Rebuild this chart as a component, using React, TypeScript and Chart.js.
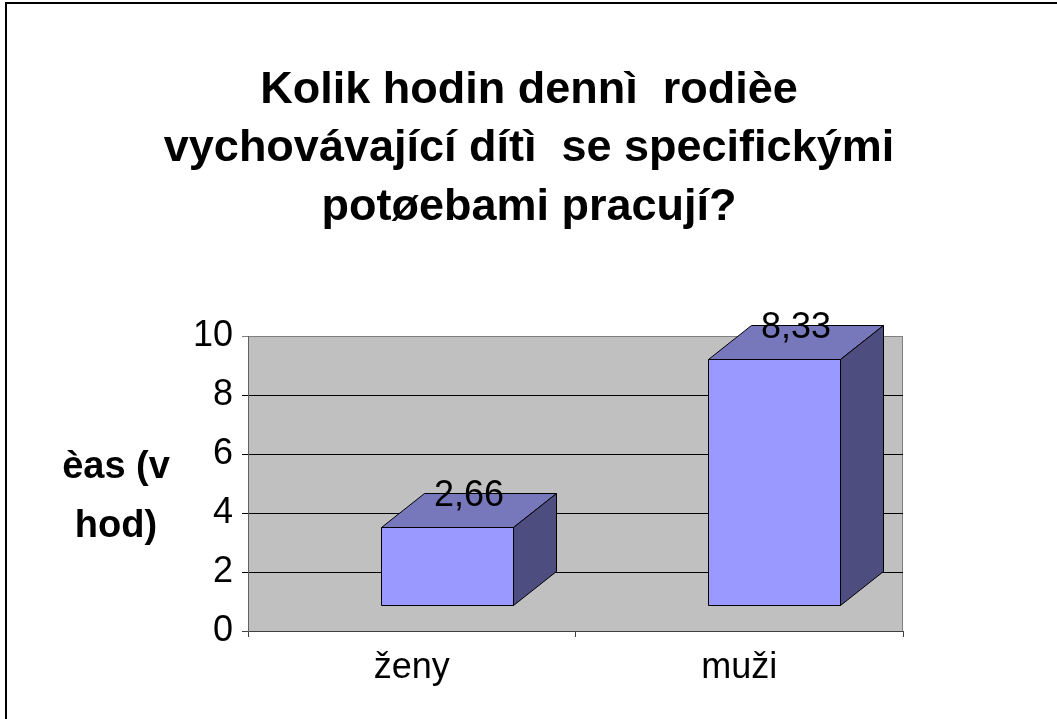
import React, { useEffect, useRef } from 'react';
import { Chart, registerables } from 'chart.js';

Chart.register(...registerables);

const categories = ['ženy', 'muži'];
const hours = [2.66, 8.33];
const yTicks = [0, 2, 4, 6, 8, 10];
const titleLines = ['Kolik hodin dennì  rodièe', 'vychovávající dítì  se specifickými', 'potøebami pracují?'];
const yTitleLines = ['èas (v', 'hod)'];

const FONT = "'Liberation Sans', Arial, Helvetica, sans-serif";

export default function App() {
  const ref = useRef<HTMLCanvasElement>(null);

  useEffect(() => {
    document.body.style.margin = '0';
    const DEPTH_X = 43;
    const DEPTH_Y = 34;
    const SHIFT_X = 35;
    const LIFT = 26;

    const wallPlugin = {
      id: 'wall3d',
      beforeDraw(chart: any) {
        const { ctx, chartArea: a } = chart;
        ctx.save();
        ctx.fillStyle = '#C0C0C0';
        ctx.fillRect(a.left, a.top, a.right - a.left, a.bottom - a.top);
        ctx.strokeStyle = '#808080';
        ctx.lineWidth = 1;
        ctx.beginPath();
        ctx.moveTo(Math.round(a.right) - 0.5, a.top);
        ctx.lineTo(Math.round(a.right) - 0.5, a.bottom);
        ctx.stroke();
        ctx.restore();
      },
      afterDatasetsDraw(chart: any) {
        const { ctx } = chart;
        const meta = chart.getDatasetMeta(0);
        ctx.save();
        ctx.lineWidth = 1;
        ctx.strokeStyle = '#000000';
        ctx.lineJoin = 'miter';
        meta.data.forEach((el: any, i: number) => {
          const w = el.width;
          const L = Math.round(el.x - w / 2 + SHIFT_X) + 0.5;
          const R = Math.round(el.x + w / 2 + SHIFT_X) + 0.5;
          const T = Math.round(el.y - LIFT) + 0.5;
          const B = Math.round(el.base - LIFT) + 0.5;
          // top face
          ctx.fillStyle = '#7777BB';
          ctx.beginPath();
          ctx.moveTo(L, T);
          ctx.lineTo(L + DEPTH_X, T - DEPTH_Y);
          ctx.lineTo(R + DEPTH_X, T - DEPTH_Y);
          ctx.lineTo(R, T);
          ctx.closePath();
          ctx.fill();
          ctx.stroke();
          // side face
          ctx.fillStyle = '#4D4D80';
          ctx.beginPath();
          ctx.moveTo(R, T);
          ctx.lineTo(R + DEPTH_X, T - DEPTH_Y);
          ctx.lineTo(R + DEPTH_X, B - DEPTH_Y);
          ctx.lineTo(R, B);
          ctx.closePath();
          ctx.fill();
          ctx.stroke();
          // front face
          ctx.fillStyle = '#9999FF';
          ctx.beginPath();
          ctx.rect(L, T, R - L, B - T);
          ctx.fill();
          ctx.stroke();
          // value label
          ctx.fillStyle = '#000000';
          ctx.font = `36px ${FONT}`;
          ctx.textAlign = 'center';
          ctx.textBaseline = 'alphabetic';
          const label = hours[i].toFixed(2).replace('.', ',');
          ctx.fillText(label, (L + R) / 2 + DEPTH_X / 2, T - 22);
        });
        ctx.restore();
      },
      afterDraw(chart: any) {
        const { ctx, chartArea: a } = chart;
        ctx.save();
        ctx.fillStyle = '#000000';
        ctx.font = `bold 38px ${FONT}`;
        ctx.textAlign = 'center';
        ctx.textBaseline = 'alphabetic';
        yTitleLines.forEach((line, i) => {
          ctx.fillText(line, a.left - 132, a.top + 142 + i * 59);
        });
        ctx.restore();
      },
    };

    const chart = new Chart(ref.current as HTMLCanvasElement, {
      type: 'bar',
      data: {
        labels: categories,
        datasets: [
          {
            data: hours,
            backgroundColor: 'rgba(0,0,0,0)',
            borderWidth: 0,
            barPercentage: 1,
            categoryPercentage: 0.403,
          },
        ],
      },
      options: {
        animation: false,
        responsive: true,
        maintainAspectRatio: false,
        layout: { padding: { left: 155, right: 154, top: 0, bottom: 0 } },
        plugins: {
          legend: { display: false },
          tooltip: { enabled: false },
          title: {
            display: true,
            text: titleLines,
            color: '#000000',
            font: { family: FONT, size: 45, weight: 'bold', lineHeight: 1.3 },
            padding: { top: 61, bottom: 99.5 },
          },
        },
        scales: {
          x: {
            type: 'category',
            afterFit: (s: any) => {
              s.height = 88;
            },
            grid: {
              drawOnChartArea: false,
              drawTicks: true,
              tickLength: 6,
              color: '#404040',
              offset: true,
            },
            border: { color: '#404040', width: 1 },
            ticks: {
              color: '#000000',
              font: { family: FONT, size: 36 },
              padding: 9,
            },
          },
          y: {
            min: 0,
            max: 10,
            afterFit: (s: any) => {
              s.width = 93;
            },
            afterBuildTicks: (s: any) => {
              s.ticks = yTicks.map((v) => ({ value: v }));
            },
            grid: {
              drawTicks: true,
              tickLength: 6,
              lineWidth: 1,
              color: (c: any) =>
                c.tick && c.tick.value === 10 ? '#808080' : c.tick && c.tick.value === 0 ? '#404040' : '#000000',
            },
            border: { color: '#606060', width: 1 },
            ticks: {
              color: '#000000',
              font: { family: FONT, size: 36 },
              padding: 9,
            },
          },
        },
      },
      plugins: [wallPlugin],
    } as any);

    return () => chart.destroy();
  }, []);

  return (
    <div style={{ position: 'relative', width: 1057, height: 719, overflow: 'hidden', background: '#ffffff' }}>
      <div
        style={{
          position: 'absolute',
          left: 5,
          top: 2,
          width: 1100,
          height: 800,
          borderTop: '2px solid #000000',
          borderLeft: '2px solid #000000',
          boxSizing: 'border-box',
        }}
      />
      <div style={{ position: 'absolute', left: 0, top: 0, width: 1057, height: 719 }}>
        <canvas ref={ref} />
      </div>
    </div>
  );
}
